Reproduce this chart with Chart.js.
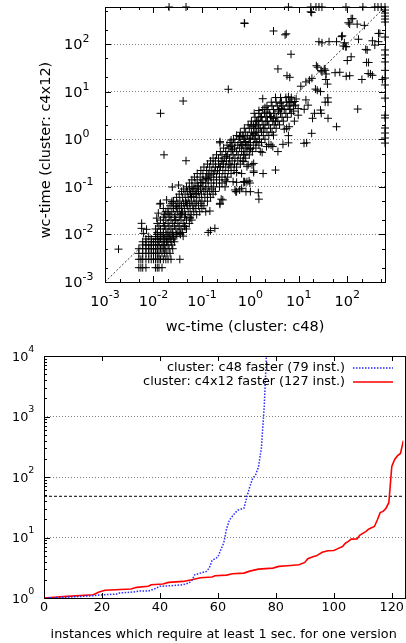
<!DOCTYPE html>
<html>
<head>
<meta charset="utf-8">
<script src="https://cdn.jsdelivr.net/npm/chart.js@4/dist/chart.umd.min.js"></script>
<style>
  html, body { margin: 0; padding: 0; background: #fff; overflow: hidden; }
  canvas { display: block; }
</style>
</head>
<body>
<canvas id="scatterChart" width="406" height="340"></canvas>
<canvas id="sortedChart" width="406" height="303"></canvas>
<script>
// wall-clock seconds per instance: [cluster c48, cluster c4x12]
const wcTimes = [
  // ms-quantised block at the bottom left
  [0.005,0.002],[0.0055,0.002],[0.006,0.002],[0.007,0.002],[0.011,0.002],[0.012,0.002],[0.013,0.002],[0.015,0.002],
  [0.005,0.003],[0.0055,0.003],[0.006,0.003],[0.007,0.003],[0.008,0.003],[0.009,0.003],[0.01,0.003],[0.011,0.003],
  [0.012,0.003],[0.013,0.003],[0.014,0.003],[0.016,0.003],[0.018,0.003],[0.02,0.003],[0.023,0.003],
  [0.005,0.004],[0.006,0.004],[0.007,0.004],[0.008,0.004],[0.009,0.004],[0.01,0.004],[0.011,0.004],[0.012,0.004],
  [0.013,0.004],[0.015,0.004],[0.017,0.004],[0.019,0.004],[0.022,0.004],
  [0.005,0.005],[0.006,0.005],[0.007,0.005],[0.008,0.005],[0.009,0.005],[0.01,0.005],[0.011,0.005],[0.012,0.005],
  [0.014,0.005],[0.016,0.005],[0.018,0.005],[0.021,0.005],[0.025,0.005],
  [0.006,0.006],[0.007,0.006],[0.008,0.006],[0.009,0.006],[0.01,0.006],[0.012,0.006],[0.013,0.006],[0.015,0.006],
  [0.017,0.006],[0.02,0.006],[0.024,0.006],
  [0.006,0.007],[0.007,0.007],[0.009,0.007],[0.01,0.007],[0.011,0.007],[0.013,0.007],[0.016,0.007],[0.019,0.007],
  [0.023,0.007],[0.027,0.007],
  [0.007,0.008],[0.009,0.008],[0.011,0.008],[0.012,0.008],[0.014,0.008],[0.017,0.008],[0.02,0.008],[0.022,0.008],[0.026,0.008],
  [0.008,0.009],[0.011,0.009],[0.013,0.009],[0.015,0.009],[0.018,0.009],[0.021,0.009],[0.024,0.009],[0.028,0.009],
  [0.012,0.01],[0.014,0.01],[0.016,0.01],[0.019,0.01],[0.022,0.01],[0.025,0.01],[0.03,0.01],[0.036,0.01],
  // main band
  [0.012,0.011],[0.016,0.011],[0.02,0.011],[0.025,0.011],[0.032,0.011],[0.04,0.011],
  [0.011,0.013],[0.014,0.013],[0.018,0.013],[0.023,0.013],[0.029,0.013],[0.037,0.013],[0.048,0.013],
  [0.013,0.015],[0.017,0.015],[0.021,0.015],[0.027,0.015],[0.034,0.015],[0.044,0.015],
  [0.012,0.017],[0.016,0.017],[0.02,0.017],[0.025,0.017],[0.032,0.017],[0.041,0.017],[0.055,0.017],
  [0.014,0.02],[0.018,0.02],[0.023,0.02],[0.029,0.02],[0.037,0.02],[0.048,0.02],[0.062,0.02],
  [0.016,0.023],[0.021,0.023],[0.027,0.023],[0.034,0.023],[0.044,0.023],[0.057,0.023],
  [0.017,0.026],[0.022,0.026],[0.028,0.026],[0.036,0.026],[0.046,0.026],[0.06,0.026],[0.078,0.026],
  [0.018,0.03],[0.024,0.03],[0.031,0.03],[0.04,0.03],[0.052,0.03],[0.068,0.03],[0.09,0.03],[0.12,0.03],
  [0.02,0.035],[0.026,0.035],[0.034,0.035],[0.044,0.035],[0.057,0.035],[0.075,0.035],[0.1,0.035],
  [0.022,0.04],[0.029,0.04],[0.038,0.04],[0.05,0.04],[0.065,0.04],[0.085,0.04],[0.11,0.04],
  [0.014,0.045],[0.024,0.045],[0.032,0.045],[0.042,0.045],[0.055,0.045],[0.072,0.045],[0.095,0.045],
  [0.026,0.05],[0.035,0.05],[0.046,0.05],[0.06,0.05],[0.078,0.05],[0.1,0.05],[0.13,0.05],
  [0.03,0.06],[0.04,0.06],[0.052,0.06],[0.068,0.06],[0.088,0.06],[0.115,0.06],[0.15,0.06],
  [0.034,0.07],[0.045,0.07],[0.058,0.07],[0.075,0.07],[0.098,0.07],[0.13,0.07],[0.17,0.07],
  [0.038,0.08],[0.05,0.08],[0.065,0.08],[0.085,0.08],[0.11,0.08],[0.145,0.08],[0.19,0.08],
  [0.042,0.09],[0.055,0.09],[0.072,0.09],[0.094,0.09],[0.12,0.09],[0.16,0.09],
  [0.048,0.1],[0.062,0.1],[0.08,0.1],[0.105,0.1],[0.135,0.1],[0.175,0.1],[0.23,0.1],[0.3,0.1],
  [0.055,0.12],[0.072,0.12],[0.094,0.12],[0.12,0.12],[0.155,0.12],[0.2,0.12],[0.26,0.12],
  [0.062,0.14],[0.08,0.14],[0.105,0.14],[0.135,0.14],[0.175,0.14],[0.23,0.14],[0.3,0.14],
  [0.07,0.16],[0.092,0.16],[0.12,0.16],[0.155,0.16],[0.2,0.16],[0.26,0.16],[0.34,0.16],
  [0.08,0.19],[0.105,0.19],[0.135,0.19],[0.175,0.19],[0.23,0.19],[0.3,0.19],[0.4,0.19],
  [0.095,0.22],[0.125,0.22],[0.16,0.22],[0.21,0.22],[0.27,0.22],[0.35,0.22],[0.46,0.22],
  [0.11,0.26],[0.145,0.26],[0.19,0.26],[0.24,0.26],[0.31,0.26],[0.4,0.26],[0.52,0.26],
  [0.13,0.3],[0.17,0.3],[0.22,0.3],[0.28,0.3],[0.36,0.3],[0.47,0.3],[0.62,0.3],
  [0.15,0.35],[0.19,0.35],[0.25,0.35],[0.32,0.35],[0.42,0.35],[0.55,0.35],[0.7,0.35],
  [0.17,0.4],[0.22,0.4],[0.29,0.4],[0.37,0.4],[0.48,0.4],[0.62,0.4],[0.8,0.4],
  [0.2,0.47],[0.26,0.47],[0.34,0.47],[0.44,0.47],[0.56,0.47],[0.72,0.47],[0.95,0.47],
  [0.24,0.55],[0.31,0.55],[0.4,0.55],[0.52,0.55],[0.66,0.55],[0.85,0.55],[1.1,0.55],
  [0.28,0.65],[0.36,0.65],[0.47,0.65],[0.6,0.65],[0.78,0.65],[1.0,0.65],[1.3,0.65],
  [0.33,0.75],[0.42,0.75],[0.55,0.75],[0.7,0.75],[0.9,0.75],[1.15,0.75],[1.5,0.75],
  [0.38,0.85],[0.48,0.85],[0.62,0.85],[0.8,0.85],[1.0,0.85],[1.3,0.85],[1.7,0.85],
  [0.45,1.0],[0.58,1.0],[0.75,1.0],[0.95,1.0],[1.2,1.0],[1.55,1.0],[2.0,1.0],
  [0.52,1.2],[0.68,1.2],[0.88,1.2],[1.1,1.2],[1.45,1.2],[1.85,1.2],[2.4,1.2],
  [0.62,1.4],[0.8,1.4],[1.05,1.4],[1.35,1.4],[1.7,1.4],[2.2,1.4],[2.8,1.4],
  [0.75,1.7],[0.95,1.7],[1.25,1.7],[1.6,1.7],[2.0,1.7],[2.6,1.7],[3.4,1.7],
  [0.9,2.0],[1.15,2.0],[1.5,2.0],[1.9,2.0],[2.4,2.0],[3.1,2.0],[4.0,2.0],
  [1.05,2.4],[1.35,2.4],[1.75,2.4],[2.25,2.4],[2.9,2.4],[3.7,2.4],[4.8,2.4],
  [1.25,2.9],[1.6,2.9],[2.1,2.9],[2.7,2.9],[3.5,2.9],[4.5,2.9],[5.8,2.9],
  [1.5,3.5],[1.95,3.5],[2.5,3.5],[3.2,3.5],[4.2,3.5],[5.4,3.5],[7.0,3.5],
  [1.8,4.2],[2.3,4.2],[3.0,4.2],[3.9,4.2],[5.0,4.2],[6.5,4.2],
  [2.2,5.0],[2.8,5.0],[3.6,5.0],[4.7,5.0],[6.0,5.0],[7.8,5.0],
  [2.7,6.0],[3.4,6.0],[4.4,6.0],[5.6,6.0],[7.2,6.0],[3.3,7.5],[4.2,7.5],[5.4,7.5],[7.0,7.5],
  [1.2,3.5],[1.5,4.0],[2.0,4.6],[1.7,3.0],[2.2,3.7],
  // scattered around and below the band
  [0.0019,0.0049],[0.0057,0.0171],[0.0057,0.0134],[0.0062,0.0105],[0.0072,0.0128],[0.035,0.003],
  [0.0136,0.0435],[0.033,0.109],[0.0187,0.053],[0.024,0.049],[0.02,0.028],[0.0126,0.028],[0.0117,0.022],
  [0.016,0.035],[0.03,0.038],[0.028,0.02],[0.038,0.028],[0.048,0.045],[0.061,0.062],[0.078,0.073],
  [0.066,0.035],[0.057,0.022],[0.045,0.0146],[0.035,0.0105],[0.026,0.0089],[0.0187,0.007],
  [0.135,0.011],[0.15,0.012],[0.185,0.0134],[0.041,0.0092],[0.0245,0.099],
  [0.146,0.031],[0.235,0.043],[0.235,0.045],[0.25,0.055],[0.27,0.053],[0.48,0.086],[0.5,0.079],
  [0.52,0.079],[0.6,0.086],[0.66,0.093],[0.52,0.124],[0.77,0.124],[0.44,0.128],[0.85,0.128],
  [1.17,0.2],[1.5,0.055],[1.46,0.075],[1.0,0.079],[0.81,0.079],[0.75,0.128],[0.94,0.133],[0.98,0.12],
  [0.73,0.128],[0.32,0.128],[0.52,0.2],[0.66,0.19],[0.38,0.29],[0.73,0.34],[0.9,0.29],[0.77,0.47],
  [1.0,0.64],[1.36,0.89],[1.27,1.22],[0.236,0.84],[0.236,0.89],[0.4,0.96],[0.6,1.12],[0.6,1.15],
  [1.03,2.0],[1.17,1.83],[1.36,2.35],[0.4,0.7],[0.43,0.6],[0.32,0.43],[0.27,0.34],[0.235,0.265],
  [0.185,0.215],[0.146,0.177],[0.126,0.15],[0.1,0.124],[0.084,0.105],[0.066,0.093],[0.057,0.079],
  [1.83,0.19],[1.17,0.215],[3.3,0.225],[2.67,0.755],[2.9,0.7],[2.4,0.78],[1.75,0.53],[1.17,0.31],
  [1.08,0.29],[0.85,0.265],[1.6,0.55],[2.15,0.7],[3.0,1.22],[0.79,0.89],[0.73,1.12],[0.66,0.76],
  [0.85,0.76],[0.98,0.6],[0.73,0.55],[1.0,1.05],[1.17,1.33],[1.27,2.0],[1.46,1.69],[1.46,2.5],
  [1.85,1.69],[2.1,2.35],[2.6,3.0],[3.3,2.35],[3.0,2.75],[3.8,3.9],[4.4,4.4],[4.1,5.7],[6.1,7.8],
  [6.6,6.1],[8.8,7.0],[9.7,4.4],[8.5,5.2],[6.6,4.3],[7.8,3.9],[3.7,0.55],[4.7,0.78],[6.1,1.19],
  [5.0,1.62],[5.6,1.69],[6.3,1.83],[8.1,2.4],[9.7,3.2],[12.9,4.25],[15.5,5.2],[14,6.7],[19.2,2.75],
  [21,3.5],[29,3.5],[28,4.1],[35,6.0],[39.5,7.4],[14.5,0.84],[18.4,1.33],[60,1.83],[164,4.3],
  [6.1,0.84],[12.8,0.82],[40,2.75],
  // sparse upper part
  [0.014,3.5],[0.041,6.35],[0.0165,0.47],[0.047,0.353],[0.35,11.2],[1.8,7.1],
  [6.5,6.0],[8.2,6.2],[11,13],[14,16],[16.5,17.4],[18.6,19],[22,11.3],[24,10.7],[28,10],[40,6.0],
  [39,14.4],[36,18],[36.6,23.5],[30,26],[35,28],[33.5,30],[28.7,27.6],[24.5,32.6],[23,35],
  [56,25],[70,25.5],[95,21],[200,18],[300,23.5],[330,22],[530,18],[270,24],[112,21.6],
  [3.7,30],[5.7,21.6],[6.5,20],[6.9,61],[120,54],[100,45],[275,41],[250,41],[257,75],[240,77],
  [26,112],[42,112],[30,106],[60,112],[79,149],[76,143],[87,106],[83,91],[95,88],[93,88],
  [170,126],[330,117],[370,95],[440,112],[440,167],[470,167],
  [0.75,277],[0.76,270],[3.0,188],[5.5,164],[5.2,156],[17.6,476],[18.4,460],
  [105,280],[112,263],[120,340],[129,340],[160,262],[225,247],
  // runs that hit the limit on one side
  [0.021,600],[0.047,600],[6.1,600],[17.7,600],[22.6,600],[26,600],[30,600],[94,600],[210,600],
  [370,600],[430,600],[500,600],[600,600],
  [600,518],[600,448],[600,387],[600,335],[600,290],[600,140],[600,75],[600,59],[600,42],[600,28],
  [600,19.3],[600,13.8],[600,7.3],[600,3.2],[600,2.8],[600,1.72],[600,1.35],[600,1.06],[600,0.83]
];
const wcDiagonal = [0.001, 600];
const wcDecades = [0.001, 0.01, 0.1, 1, 10, 100];

// sorted speed-up factors for instances needing at least 1 s
const c48FasterIdx = [0, 8, 17, 19, 25, 26, 31, 33, 36, 38, 40, 44, 48, 50, 51, 52, 54, 56, 57, 58,
  60, 61, 62, 63, 64, 66, 67, 69, 70, 71, 72, 73, 74, 75, 76, 77];
const c48FasterRatio = [1.0, 1.03, 1.09, 1.12, 1.16, 1.21, 1.26, 1.3, 1.3, 1.41, 1.56, 1.6, 1.66, 1.77, 1.95, 2.42,
  2.58, 2.75, 3.12, 4.17, 4.74, 6.26, 8.05, 14, 19.5, 25.8, 28.5, 30.5, 47, 69, 95, 108, 147, 300, 1500, 20000];
const c4x12FasterIdx = [0, 8, 17, 19, 21, 30, 32, 36, 37, 41, 43, 48, 51, 54, 58, 59, 63, 65, 69, 71,
  74, 79, 81, 84, 88, 90, 91, 93, 94, 96, 98, 100, 101, 103, 104, 105, 106, 108, 109, 111,
  112, 113, 114, 115, 116, 117, 118, 119, 120, 121, 122, 123, 124];
const c4x12FasterRatio = [1.0, 1.065, 1.13, 1.26, 1.34, 1.41, 1.5, 1.56, 1.66, 1.7, 1.81, 1.88, 2.0, 2.16, 2.22, 2.33,
  2.39, 2.52, 2.58, 2.78, 3.0, 3.12, 3.33, 3.41, 3.54, 3.87, 4.45, 4.86, 4.98, 5.7, 6.03, 6.1, 6.43, 7.1,
  8.05, 8.6, 9.4, 9.5, 11.0, 12.5, 13.7, 14.5, 15.2, 19.5, 25.8, 27, 30.5, 38, 150, 195, 225, 245, 400];
const seriesLabels = ['cluster: c48 faster (79 inst.)', 'cluster: c4x12 faster (127 inst.)'];
const ratioMarker = 48;
const ratioDecades = [1, 10, 100, 1000, 10000];
const instanceTicks = [0, 20, 40, 60, 80, 100, 120];
const instanceMax = 124;

const FONT = '"DejaVu Sans", sans-serif';

function powLabel(ctx, x, y, exp, align, baseSize, supSize, rise) {
  const base = '10', sup = String(exp);
  ctx.font = baseSize + 'px ' + FONT;
  const wb = ctx.measureText(base).width;
  ctx.font = supSize + 'px ' + FONT;
  const ws = ctx.measureText(sup).width;
  let x0 = x;
  if (align === 'center') x0 = x - (wb + ws) / 2;
  if (align === 'right') x0 = x - wb - ws;
  ctx.textAlign = 'left';
  ctx.textBaseline = 'alphabetic';
  ctx.font = baseSize + 'px ' + FONT;
  ctx.fillText(base, x0, y);
  ctx.font = supSize + 'px ' + FONT;
  ctx.fillText(sup, x0 + wb, y - rise);
}

function logMarks(min, max, mults) {
  const out = [];
  for (let e = Math.floor(Math.log10(min)); e <= Math.ceil(Math.log10(max)); e++) {
    mults.forEach(m => {
      const v = m * Math.pow(10, e);
      if (v >= min * 0.999 && v <= max * 1.001) out.push(v);
    });
  }
  return out;
}

function px(v) { return Math.round(v) + 0.5; }

const scatterFrame = {
  id: 'scatterFrame',
  afterDraw(chart) {
    const {ctx, chartArea: a, scales: {x, y}} = chart;
    ctx.save();
    ctx.strokeStyle = '#000';
    ctx.lineWidth = 1;
    ctx.beginPath();
    [[wcDecades, 6], [logMarks(0.001, 600, [2, 5]), 3]].forEach(([vals, len]) => {
      vals.forEach(v => {
        const xx = px(x.getPixelForValue(v));
        ctx.moveTo(xx, a.bottom); ctx.lineTo(xx, a.bottom - len);
        ctx.moveTo(xx, a.top); ctx.lineTo(xx, a.top + len);
        const yy = px(y.getPixelForValue(v));
        ctx.moveTo(a.left, yy); ctx.lineTo(a.left + len, yy);
        ctx.moveTo(a.right, yy); ctx.lineTo(a.right - len, yy);
      });
    });
    ctx.stroke();
    ctx.strokeRect(px(a.left), px(a.top), Math.round(a.right - a.left), Math.round(a.bottom - a.top));

    ctx.fillStyle = '#000';
    wcDecades.forEach(v => {
      const e = Math.round(Math.log10(v));
      powLabel(ctx, 64, y.getPixelForValue(v) + 5, e, 'left', 14.5, 11, 7);
      powLabel(ctx, x.getPixelForValue(v), 306, e, 'center', 14.5, 11, 8);
    });

    ctx.translate(46, 150);
    ctx.rotate(-Math.PI / 2);
    ctx.font = '14.5px ' + FONT;
    ctx.textAlign = 'center';
    ctx.textBaseline = 'middle';
    ctx.fillText('wc-time (cluster: c4x12)', 0, 0);
    ctx.restore();
  }
};

new Chart('scatterChart', {
  type: 'scatter',
  data: {
    datasets: [{
      data: wcTimes.map(p => ({x: p[0], y: p[1]})),
      pointStyle: 'cross',
      pointRadius: 4,
      borderColor: '#000',
      borderWidth: 1,
      clip: false
    }, {
      data: wcDiagonal.map(v => ({x: v, y: v})),
      showLine: true,
      borderColor: '#000',
      borderWidth: 0.8,
      borderDash: [2, 2],
      pointRadius: 0
    }]
  },
  options: {
    responsive: false,
    animation: false,
    events: [],
    layout: {padding: {top: 7, right: 21, left: 0, bottom: 0}, autoPadding: false},
    plugins: {legend: {display: false}, tooltip: {enabled: false}},
    scales: {
      x: {
        type: 'logarithmic', min: 0.001, max: 600,
        ticks: {display: false},
        grid: {display: false},
        border: {display: false},
        title: {display: true, text: 'wc-time (cluster: c48)', color: '#000',
                font: {family: FONT, size: 14.5}, padding: {top: 0, bottom: 4}},
        afterFit: s => { s.height = 58; }
      },
      y: {
        type: 'logarithmic', min: 0.001, max: 600,
        ticks: {display: false},
        grid: {color: '#808080', drawTicks: false},
        border: {display: false, dash: [1, 2]},
        afterBuildTicks: s => { s.ticks = wcDecades.map(v => ({value: v})); },
        afterFit: s => { s.width = 105; }
      }
    }
  },
  plugins: [scatterFrame]
});

const sortedFrame = {
  id: 'sortedFrame',
  afterDraw(chart) {
    const {ctx, chartArea: a, scales: {x, y}} = chart;
    const sets = chart.data.datasets;
    ctx.save();
    ctx.strokeStyle = '#000';
    ctx.lineWidth = 1;
    ctx.beginPath();
    [[ratioDecades, 6], [logMarks(1, 10000, [2, 3, 4, 5, 6, 7, 8, 9]), 3]].forEach(([vals, len]) => {
      vals.forEach(v => {
        const yy = px(y.getPixelForValue(v));
        ctx.moveTo(a.left, yy); ctx.lineTo(a.left + len, yy);
      });
    });
    instanceTicks.forEach(v => {
      const xx = px(x.getPixelForValue(v));
      ctx.moveTo(xx, a.bottom); ctx.lineTo(xx, a.bottom - 5);
      ctx.moveTo(xx, a.top); ctx.lineTo(xx, a.top + 5);
    });
    ctx.stroke();
    ctx.strokeRect(px(a.left), px(a.top), Math.round(a.right - a.left) + 2, Math.round(a.bottom - a.top));

    ctx.fillStyle = '#000';
    ratioDecades.forEach(v => {
      powLabel(ctx, 12, y.getPixelForValue(v) + 4.5, Math.round(Math.log10(v)), 'left', 12.8, 9.5, 9);
    });

    // key: text right-aligned, line sample to the right
    ctx.font = '12.8px ' + FONT;
    ctx.textAlign = 'right';
    ctx.textBaseline = 'middle';
    [0, 1].forEach(i => {
      const ly = a.top + 12 + i * 14;
      ctx.fillStyle = '#000';
      ctx.fillText(sets[i].label, 345, ly);
      ctx.strokeStyle = sets[i].borderColor;
      ctx.lineWidth = sets[i].borderWidth;
      ctx.setLineDash(sets[i].borderDash || []);
      ctx.beginPath();
      ctx.moveTo(353, ly); ctx.lineTo(393, ly);
      ctx.stroke();
    });
    ctx.restore();
  }
};

new Chart('sortedChart', {
  type: 'line',
  data: {
    datasets: [{
      label: seriesLabels[0],
      data: c48FasterIdx.map((v, i) => ({x: v, y: c48FasterRatio[i]})),
      borderColor: '#2a2aff',
      borderWidth: 1.5,
      borderDash: [1.5, 1.5],
      pointRadius: 0,
      tension: 0
    }, {
      label: seriesLabels[1],
      data: c4x12FasterIdx.map((v, i) => ({x: v, y: c4x12FasterRatio[i]})),
      borderColor: '#ff0000',
      borderWidth: 1.6,
      pointRadius: 0,
      tension: 0
    }, {
      label: 'marker',
      data: [{x: 0, y: ratioMarker}, {x: instanceMax, y: ratioMarker}],
      borderColor: '#000',
      borderWidth: 1,
      borderDash: [3, 2],
      pointRadius: 0
    }]
  },
  options: {
    responsive: false,
    animation: false,
    events: [],
    layout: {padding: {top: 16, right: 0, left: 0, bottom: 0}, autoPadding: false},
    plugins: {legend: {display: false}, tooltip: {enabled: false}},
    scales: {
      x: {
        type: 'linear', min: 0, max: instanceMax,
        ticks: {color: '#000', font: {family: FONT, size: 12.8}, padding: 2, maxRotation: 0, autoSkip: false},
        afterBuildTicks: s => { s.ticks = instanceTicks.map(v => ({value: v})); },
        grid: {display: false, drawTicks: false},
        border: {display: false},
        title: {display: true, text: 'instances which require at least 1 sec. for one version', color: '#000',
                font: {family: FONT, size: 12.8}, padding: {top: 0, bottom: 1}},
        afterFit: s => { s.height = 45; }
      },
      y: {
        type: 'logarithmic', min: 1, max: 10000,
        ticks: {display: false},
        grid: {color: '#808080', drawTicks: false},
        border: {display: false, dash: [1, 2]},
        afterBuildTicks: s => { s.ticks = ratioDecades.map(v => ({value: v})); },
        afterFit: s => { s.width = 44; }
      }
    }
  },
  plugins: [sortedFrame]
});
</script>
</body>
</html>
